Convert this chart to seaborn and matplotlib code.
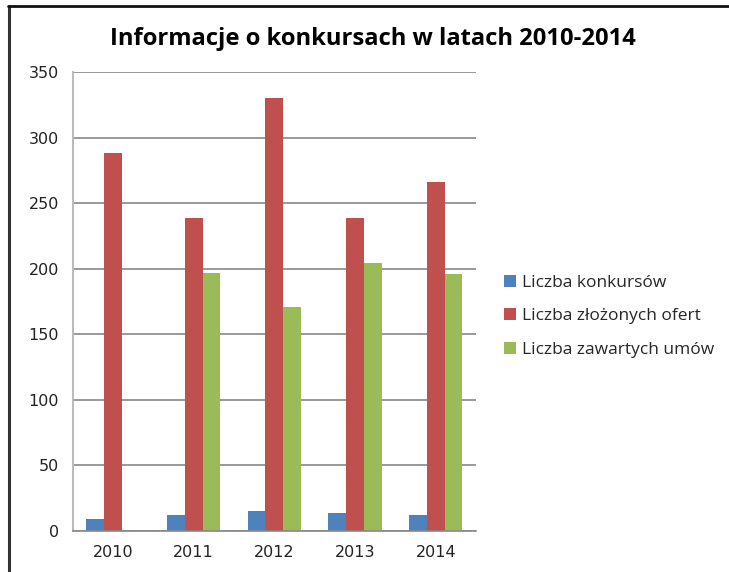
import matplotlib
matplotlib.use("Agg")
import matplotlib.pyplot as plt
import seaborn as sns
import pandas as pd
from matplotlib.lines import Line2D
from matplotlib.patches import Patch

years = ["2010", "2011", "2012", "2013", "2014"]
series = ["Liczba konkursów", "Liczba złożonych ofert", "Liczba zawartych umów"]
konkursy = [9, 12, 15, 14, 12]
oferty = [288, 239, 330, 239, 266]
umowy = [0, 197, 171, 204, 196]
colors = ["#4F81BD", "#C0504D", "#9BBB59"]

df = pd.DataFrame({
    "year": years * 3,
    "series": [series[0]] * 5 + [series[1]] * 5 + [series[2]] * 5,
    "value": konkursy + oferty + umowy,
})

sns.set_theme(style="white")
plt.rcParams['font.family'] = ['DejaVu Sans']

fig = plt.figure(figsize=(7.29, 5.72), dpi=100)
ax = fig.add_axes([0.0997, 0.0717, 0.5533, 0.8024])

sns.barplot(data=df, x="year", y="value", hue="series", palette=colors,
            width=0.66, ax=ax, legend=False, saturation=1, linewidth=0)

ax.set_ylim(0, 350)
ax.set_yticks(range(0, 351, 50))
ax.yaxis.grid(True, color="#888888", linewidth=1.2)
ax.set_axisbelow(True)
ax.set_xlabel("")
ax.set_ylabel("")
for s in ["top", "right"]:
    ax.spines[s].set_visible(False)
ax.spines["left"].set_color("#BBBBBB")
ax.spines["left"].set_linewidth(1.5)
ax.spines["bottom"].set_color("#888888")
ax.spines["bottom"].set_linewidth(1.2)
for lab in ax.get_xticklabels() + ax.get_yticklabels():
    lab.set_family(["DejaVu Sans"])
ax.tick_params(axis="both", length=0, labelsize=11.5, colors="#222222")
ax.tick_params(axis="y", pad=10)
ax.tick_params(axis="x", pad=10)

fig.text(0.511, 0.931, "Informacje o konkursach w latach 2010-2014",
         ha="center", va="center", fontsize=17.1, fontweight="bold",
         family=["Open Sans", "DejaVu Sans"], color="#000000")

handles = [Patch(facecolor=c, edgecolor="none") for c in colors]
leg = fig.legend(handles, series, loc="center left", bbox_to_anchor=(0.67, 0.447),
                 frameon=False, handlelength=0.7, handleheight=0.7,
                 handletextpad=0.35, labelspacing=1.0,
                 prop={"family": ["Open Sans", "DejaVu Sans"], "size": 12.5})

fig.add_artist(Line2D([0.012, 0.012], [0, 0.99], transform=fig.transFigure,
                      color="#333333", linewidth=2.2))
fig.add_artist(Line2D([0.011, 1.0], [0.99, 0.99], transform=fig.transFigure,
                      color="#111111", linewidth=2))

fig.savefig("out.png", dpi=100)
